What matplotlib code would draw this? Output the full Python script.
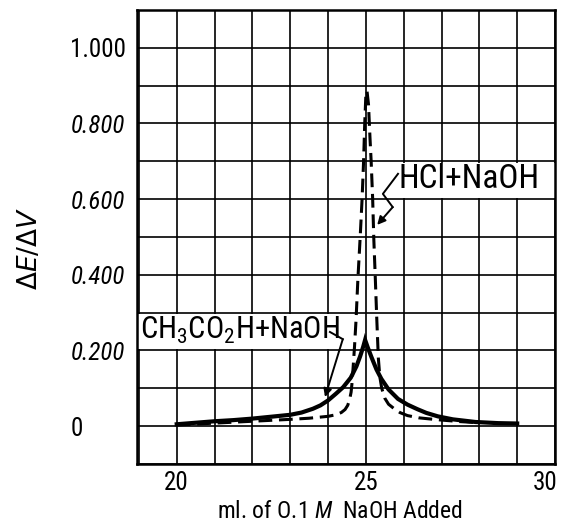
import matplotlib
matplotlib.use("Agg")
import matplotlib.pyplot as plt
from matplotlib import font_manager as fm
from matplotlib.patches import Rectangle
from matplotlib.ticker import MultipleLocator, FixedLocator
from matplotlib.transforms import ScaledTranslation

# --- data -----------------------------------------------------------------
# acetic acid titrated with NaOH (solid curve)
acetic_ml = [20.0, 20.5, 21.0, 21.5, 22.0, 22.5, 23.0, 23.3, 23.6, 23.8,
             24.0, 24.2, 24.4, 24.6, 24.75, 24.85, 24.93, 24.98, 25.05, 25.15,
             25.28, 25.41, 25.6, 25.85, 26.1, 26.36, 26.6, 26.9, 27.3, 27.9,
             28.5, 29.0]
acetic_dEdV = [0.005, 0.009, 0.013, 0.016, 0.020, 0.025, 0.030, 0.036, 0.046, 0.055,
               0.068, 0.085, 0.103, 0.128, 0.158, 0.185, 0.210, 0.228, 0.208, 0.182,
               0.150, 0.125, 0.097, 0.072, 0.057, 0.045, 0.035, 0.026, 0.018, 0.011,
               0.008, 0.007]

# hydrochloric acid titrated with NaOH (dashed curve)
hcl_ml = [20.0, 21.0, 22.0, 23.0, 23.5, 24.0, 24.2, 24.35, 24.45, 24.52,
          24.57, 24.61, 24.63, 24.66, 24.70, 24.74, 24.79, 24.85, 24.90, 24.94,
          24.97, 25.0, 25.03, 25.07, 25.11, 25.14, 25.18, 25.21, 25.25, 25.29,
          25.33, 25.37, 25.42, 25.5, 25.6, 25.75, 25.9, 26.1, 26.4, 26.9,
          27.5, 28.0]
hcl_dEdV = [0.003, 0.008, 0.013, 0.018, 0.021, 0.026, 0.030, 0.036, 0.044, 0.055,
            0.070, 0.090, 0.110, 0.150, 0.210, 0.280, 0.390, 0.500, 0.600, 0.700,
            0.800, 0.875, 0.886, 0.850, 0.760, 0.700, 0.600, 0.495, 0.390, 0.280,
            0.180, 0.130, 0.100, 0.074, 0.058, 0.046, 0.036, 0.028, 0.022, 0.017,
            0.012, 0.009]

x_ticks = [20, 25, 30]
y_ticks = [0.0, 0.2, 0.4, 0.6, 0.8, 1.0]
y_tick_labels = ["0", "0.200", "0.400", "0.600", "0.800", "1.000"]

# --- fonts ----------------------------------------------------------------
available = {f.name for f in fm.fontManager.ttflist}
narrow = "DejaVu Sans"
for cand in ["Liberation Sans Narrow", "Roboto Condensed", "Open Sans Condensed"]:
    if cand in available:
        narrow = cand
        break
is_narrow = narrow != "DejaVu Sans"

plt.rcParams["font.family"] = [narrow, "DejaVu Sans"]
plt.rcParams["mathtext.fontset"] = "custom"
plt.rcParams["mathtext.rm"] = narrow
plt.rcParams["mathtext.it"] = narrow + ":italic"

fig = plt.figure(figsize=(5.67, 5.32), dpi=100)
ax = fig.add_axes([137 / 567, 1 - 464 / 532, (555 - 137) / 567, (464 - 10) / 532])

ax.set_xlim(18.95, 30)
ax.set_ylim(-0.1, 1.1)

ax.xaxis.set_major_locator(FixedLocator(x_ticks))
ax.xaxis.set_minor_locator(MultipleLocator(1))
ax.yaxis.set_major_locator(FixedLocator(y_ticks))
ax.yaxis.set_minor_locator(MultipleLocator(0.1))
ax.set_yticklabels(y_tick_labels)

ax.grid(True, which="both", color="black", linewidth=1.2)
ax.set_axisbelow(True)
for s in ax.spines.values():
    s.set_linewidth(1.8)

tick_size = 18 if is_narrow else 15
ax.tick_params(axis="both", which="both", length=0)
ax.tick_params(axis="x", labelsize=18, pad=5)
ax.tick_params(axis="y", labelsize=tick_size, pad=48)
for lab in ax.get_yticklabels():
    lab.set_horizontalalignment("left")
    if lab.get_text() not in ("0", "1.000"):
        lab.set_style("italic")
# the last x label sits a little inside the right frame edge
last_x = ax.get_xticklabels()[-1]
last_x.set_transform(last_x.get_transform()
                     + ScaledTranslation(-7 / 72, 0, fig.dpi_scale_trans))

# white bands behind the curve labels
ax.add_patch(Rectangle((18.95, 0.204), 24.45 - 18.95, 0.092,
                       facecolor="white", edgecolor="none", zorder=1))
ax.add_patch(Rectangle((25.55, 0.604), 30 - 25.55, 0.092,
                       facecolor="white", edgecolor="none", zorder=1))

# curves
ax.plot(hcl_ml, hcl_dEdV, color="black", linewidth=2.2, linestyle=(0, (4.5, 2.2)),
        solid_joinstyle="round", dash_capstyle="butt", zorder=2)
ax.plot(acetic_ml, acetic_dEdV, color="black", linewidth=3.0,
        solid_joinstyle="miter", zorder=3)

label_size = 24 if is_narrow else 19
ax.text(25.85, 0.652, "HCl+NaOH", fontsize=label_size, ha="left", va="center", zorder=4)
ax.text(19.02, 0.252, r"CH$_3$CO$_2$H+NaOH", fontsize=label_size - 2,
        ha="left", va="center", zorder=4)

# leader for HCl label
ax.plot([25.85, 25.45, 25.71], [0.667, 0.614, 0.579], color="black", lw=1.4, zorder=4)
ax.annotate("", xy=(25.30, 0.532), xytext=(25.71, 0.579),
            arrowprops=dict(arrowstyle="-|>", color="black", lw=1.4,
                            mutation_scale=12, shrinkA=0, shrinkB=0), zorder=4)
# leader for acetic acid label
ax.plot([24.05, 24.39], [0.249, 0.230], color="black", lw=1.4, zorder=4)
ax.annotate("", xy=(23.92, 0.077), xytext=(24.39, 0.230),
            arrowprops=dict(arrowstyle="-|>", color="black", lw=1.4,
                            mutation_scale=12, shrinkA=0, shrinkB=0), zorder=4)

# axis titles
fig.text(30 / 567, 1 - 248 / 532, r"$\Delta E/\Delta V$", rotation=90,
         fontsize=19, ha="center", va="center", family="DejaVu Sans",
         math_fontfamily="dejavusans")
fig.text(340 / 567, 1 - 511 / 532, r"ml. of O.1 $\mathit{M}$  NaOH Added",
         fontsize=17, ha="center", va="center")

fig.savefig("out.png", dpi=100)
